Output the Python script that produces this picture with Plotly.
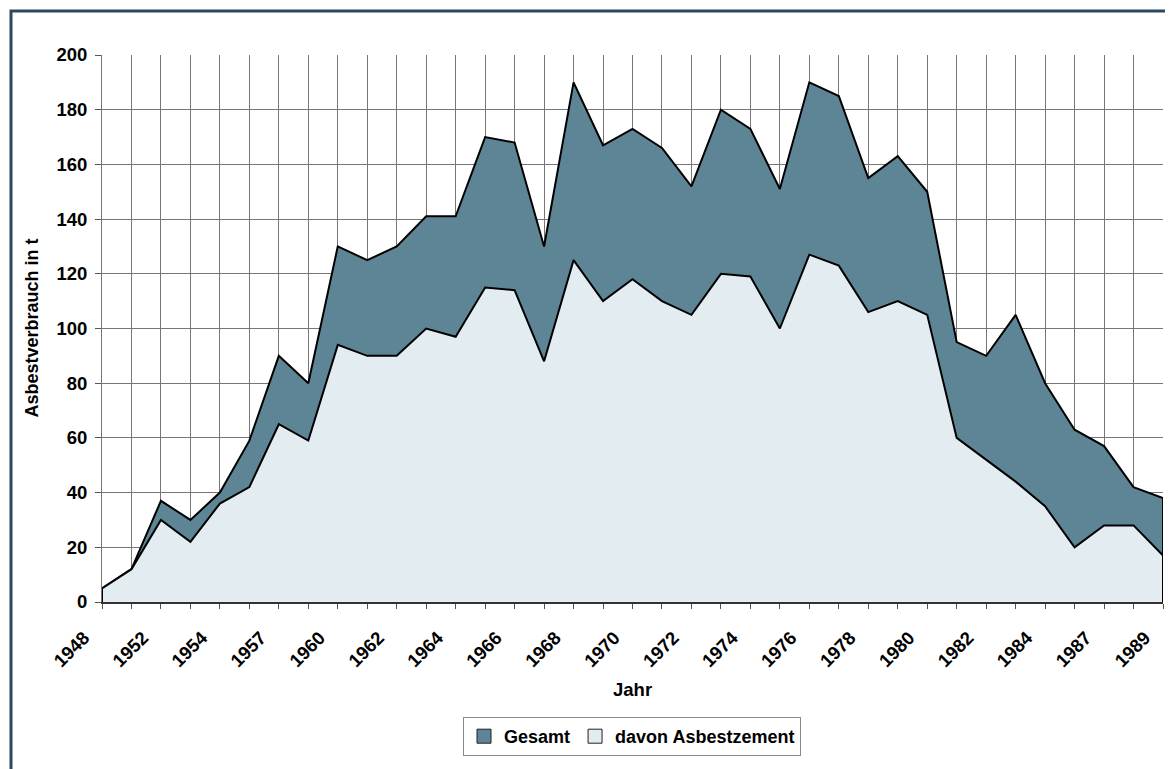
import plotly.graph_objects as go

# ---- data ----
tick_labels = ["1948", "1952", "1954", "1957", "1960", "1962", "1964", "1966", "1968", "1970",
               "1972", "1974", "1976", "1978", "1980", "1982", "1984", "1987", "1989"]
gesamt = [5, 12, 37, 30, 40, 59, 90, 80, 130, 125,
          130, 141, 141, 170, 168, 130, 190, 167, 173, 166,
          152, 180, 173, 151, 190, 185, 155, 163, 150, 95,
          90, 105, 80, 63, 57, 42, 38]
asbestzement = [5, 12, 30, 22, 36, 42, 65, 59, 94, 90,
                90, 100, 97, 115, 114, 88, 125, 110, 118, 110,
                105, 120, 119, 100, 127, 123, 106, 110, 105, 60,
                52, 44, 35, 20, 28, 28, 17]
series_names = ["Gesamt", "davon Asbestzement"]

n = len(gesamt)
idx = list(range(n))
last = idx[-1]

FONT = "Liberation Sans, Arial, sans-serif"
C_DARK = "#5e8596"
C_LIGHT = "#e3ecf0"
GRID = "#767676"

# page has an 8px body margin; plot area wanted at x 102..1163, y 55..602 (absolute)
OFF = 8
W, H = 1173 - OFF, 769 - OFF
PL, PR, PT, PB = 102, 1163, 55, 602
PW, PH = PR - PL, PB - PT


def px(X):
    return (X - PL) / PW


def py(Y):
    return (PB - Y) / PH


fig = go.Figure()

for vals, col in [(gesamt, C_DARK), (asbestzement, C_LIGHT)]:
    fig.add_trace(go.Scatter(
        x=[idx[0]] + idx + [last],
        y=[0] + vals + [0],
        mode="lines", fill="toself", fillcolor=col,
        line=dict(color="black", width=2),
        showlegend=False, hoverinfo="skip",
    ))

# legend entries (square swatches)
for name, col in zip(series_names, [C_DARK, C_LIGHT]):
    fig.add_trace(go.Scatter(
        x=[None], y=[None], mode="markers", name="<b>%s</b>" % name,
        marker=dict(symbol="square", size=14, color=col, line=dict(color="#222", width=1)),
    ))

tickvals = [2 * i for i in range(len(tick_labels))]
ticktext = ["<b>%s</b>" % t for t in tick_labels]

fig.update_layout(
    width=W, height=H,
    margin=dict(l=PL - OFF, r=(OFF + W) - PR, t=PT - OFF, b=(OFF + H) - PB, autoexpand=False),
    paper_bgcolor="white", plot_bgcolor="white",
    font=dict(family=FONT, size=17, color="black"),
    xaxis=dict(
        range=[0, last], tickmode="array", tickvals=tickvals,
        ticktext=ticktext, tickangle=-45, automargin=False,
        showgrid=True, gridcolor=GRID, gridwidth=1,
        ticks="outside", ticklen=5, tickcolor="#555",
        minor=dict(tickmode="linear", tick0=0, dtick=1, showgrid=True,
                   gridcolor=GRID, gridwidth=1, ticks="outside", ticklen=5, tickcolor="#555"),
        showline=True, linecolor="#333", linewidth=1.5,
        zeroline=False, tickfont=dict(size=18.5),
        ticklabelstandoff=11, ticklabelshift=-18,
    ),
    yaxis=dict(
        range=[0, 200], tickmode="linear", tick0=0, dtick=20, automargin=False,
        showgrid=True, gridcolor=GRID, gridwidth=1,
        ticks="outside", ticklen=6, tickcolor="#555",
        tickprefix="<b>", ticksuffix="</b>",
        showline=True, linecolor=GRID, linewidth=1,
        zeroline=False, tickfont=dict(size=18.5),
        ticklabelstandoff=4,
    ),
    showlegend=True,
    legend=dict(
        orientation="h", x=px(632), xanchor="center", y=py(717), yanchor="top",
        bordercolor="#8a8a8a", borderwidth=1, bgcolor="white",
        font=dict(size=18, family=FONT), itemwidth=30,
        traceorder="normal",
    ),
    annotations=[
        dict(text="<b>Asbestverbrauch in t</b>", xref="paper", yref="paper",
             x=px(31), y=0.5, textangle=-90, showarrow=False,
             xanchor="center", yanchor="middle", font=dict(size=18)),
        dict(text="<b>Jahr</b>", xref="paper", yref="paper",
             x=px(632), y=py(689), showarrow=False,
             xanchor="center", yanchor="middle", font=dict(size=18.5)),
    ],
    shapes=[
        dict(type="rect", xref="paper", yref="paper",
             x0=px(11), x1=px(1200), y0=py(800), y1=py(11),
             line=dict(color="#2b4a62", width=3), fillcolor="rgba(0,0,0,0)", layer="below"),
    ],
)

fig.write_html("out.html")
